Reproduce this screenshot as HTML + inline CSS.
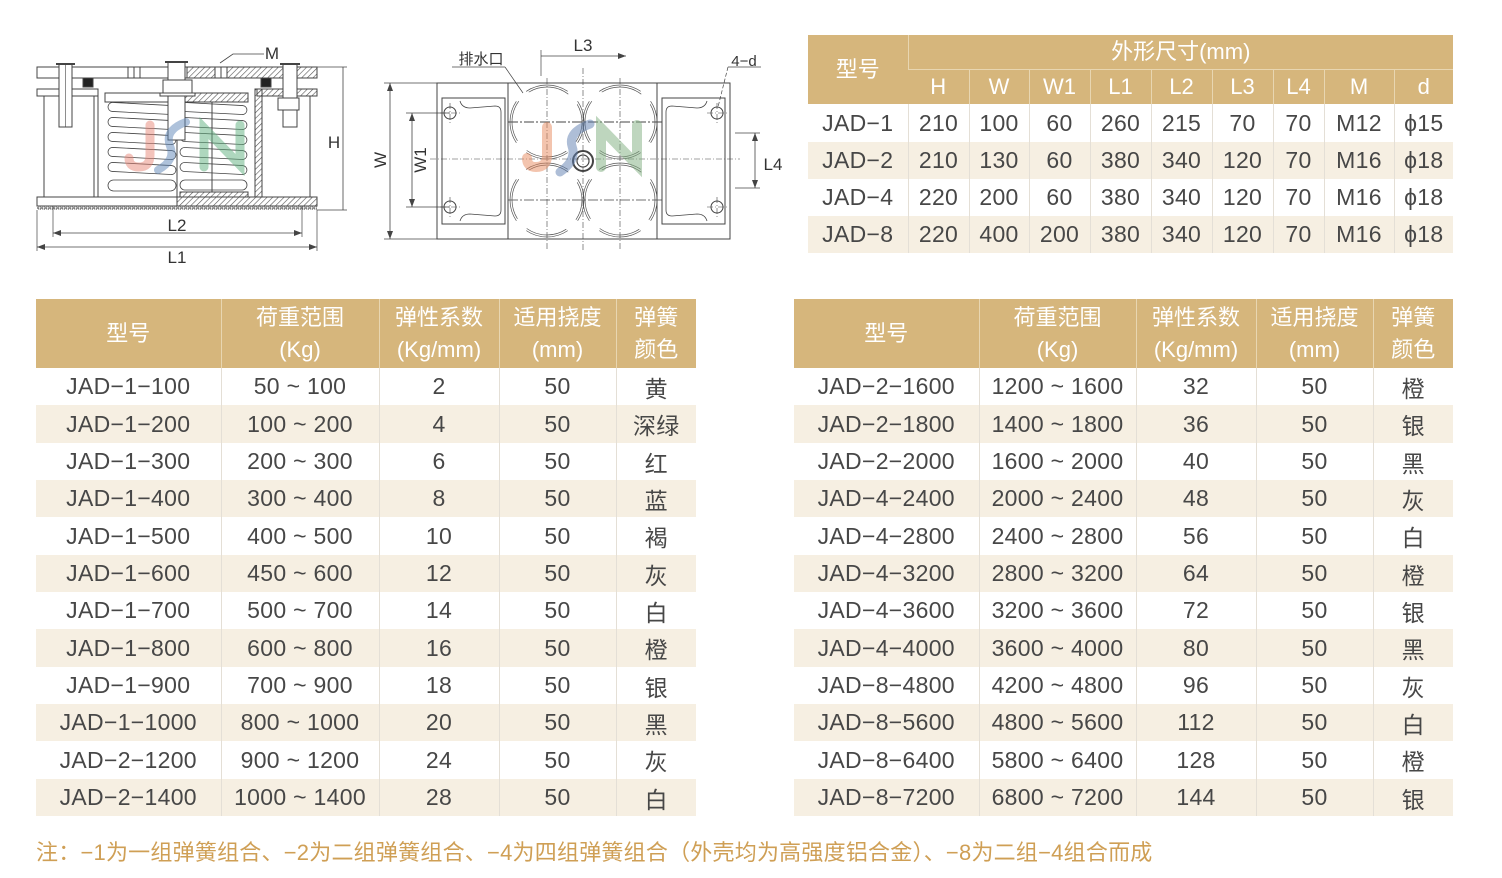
<!DOCTYPE html>
<html><head><meta charset="utf-8">
<style>
html,body{margin:0;padding:0;background:#fff;}
body{width:1502px;height:878px;position:relative;overflow:hidden;font-family:"Liberation Sans","Noto Sans CJK SC",sans-serif;}
svg.draw{position:absolute;left:0;top:0;}
table.t{position:absolute;border-collapse:collapse;table-layout:fixed;font-family:"Liberation Sans","Noto Sans CJK SC","DejaVu Sans",sans-serif;color:#474747;font-size:23px;letter-spacing:0.3px;}
table.t td{padding:0;text-align:center;vertical-align:middle;white-space:nowrap;overflow:hidden;border-left:1px solid #e4dfd6;}
table.t td:first-child{border-left:none;}
table.t tr.h td{background:#d6b67c;color:#fff;font-size:22px;line-height:32px;border-left:1px solid #e8d6b1;letter-spacing:0;}
table.t tr.h td:first-child{border-left:none;}
table.t tr.s td{background:#f6efe2;}
table.t td.hb{border-top:1px solid #e8d6b1;}
.note{position:absolute;left:36px;top:835px;font-size:22px;color:#cf9f55;white-space:nowrap;letter-spacing:0.22px;font-family:"Liberation Sans","Noto Sans CJK SC",sans-serif;}
</style></head>
<body>
<svg class="draw" width="1502" height="300" viewBox="0 0 1502 300" xmlns="http://www.w3.org/2000/svg">
<defs>
<pattern id="h" width="4" height="4" patternUnits="userSpaceOnUse" patternTransform="rotate(45)"><line x1="0" y1="0" x2="0" y2="4" stroke="#555" stroke-width="1.2"/></pattern>
<pattern id="teeth" width="4" height="4" patternUnits="userSpaceOnUse"><rect x="0.5" y="0.3" width="2.4" height="3" fill="none" stroke="#555" stroke-width="0.6"/></pattern>
<marker id="ar" markerWidth="8" markerHeight="6" refX="8" refY="3" orient="auto" markerUnits="userSpaceOnUse"><path d="M0,0 L8,3 L0,6 z" fill="#444"/></marker>
<marker id="al" markerWidth="8" markerHeight="6" refX="0" refY="3" orient="auto" markerUnits="userSpaceOnUse"><path d="M8,0 L0,3 L8,6 z" fill="#444"/></marker>
</defs>

<!-- LEFT DRAWING -->
<g stroke="#444" stroke-width="1" fill="none">
  <rect x="37" y="67" width="150" height="11" fill="#fff"/>
  <rect x="187" y="67" width="130" height="11" fill="url(#h)"/>
  <rect x="37" y="67" width="280" height="11"/>
  <rect x="128" y="67" width="12" height="11" fill="#fff"/>
  <line x1="134" y1="67" x2="134" y2="78"/>
  <rect x="215" y="67" width="12" height="11" fill="#fff"/>
  <line x1="221" y1="67" x2="221" y2="78"/>
  <rect x="83" y="78" width="10" height="9" fill="#222"/>
  <rect x="261" y="78" width="10" height="9" fill="#222"/>
  <rect x="37" y="89" width="61" height="7" fill="#fff"/>
  <rect x="257" y="89" width="60" height="7" fill="url(#h)"/>
  <rect x="44" y="96" width="50" height="101" fill="#fff"/>
  <line x1="98" y1="96" x2="98" y2="197"/>
  <rect x="262" y="96" width="48" height="101" fill="#fff"/>
  <rect x="255" y="89" width="7" height="108" fill="url(#h)"/>
  <rect x="105" y="93" width="72" height="9" fill="#fff"/>
  <rect x="177" y="93" width="71" height="9" fill="url(#h)"/>
  <g stroke-width="0.8">
    <rect x="108" y="104" width="68" height="9" rx="4.5" transform="rotate(3 142 108)"/>
    <rect x="108" y="119" width="68" height="9" rx="4.5" transform="rotate(3 142 123)"/>
    <rect x="108" y="134" width="68" height="9" rx="4.5" transform="rotate(3 142 138)"/>
    <rect x="108" y="149" width="68" height="9" rx="4.5" transform="rotate(3 142 153)"/>
    <rect x="108" y="164" width="68" height="9" rx="4.5" transform="rotate(3 142 168)"/>
    <rect x="108" y="180" width="68" height="11" rx="5.5"/>
    <rect x="180" y="104" width="67" height="9" rx="4.5" transform="rotate(3 213 108)"/>
    <rect x="180" y="119" width="67" height="9" rx="4.5" transform="rotate(3 213 123)"/>
    <rect x="180" y="134" width="67" height="9" rx="4.5" transform="rotate(3 213 138)"/>
    <rect x="180" y="149" width="67" height="9" rx="4.5" transform="rotate(3 213 153)"/>
    <rect x="180" y="164" width="67" height="9" rx="4.5" transform="rotate(3 213 168)"/>
    <rect x="180" y="180" width="67" height="10" rx="5"/>
  </g>
  <line x1="177" y1="102" x2="177" y2="197"/>
  <line x1="212" y1="102" x2="212" y2="192"/>
  <rect x="180" y="192" width="68" height="5" fill="url(#h)"/>
  <rect x="37" y="197" width="140" height="9" fill="#fff"/>
  <rect x="177" y="197" width="140" height="9" fill="url(#h)"/>
  <rect x="37" y="197" width="280" height="9"/>
  <rect x="37" y="206" width="280" height="4" fill="url(#teeth)" stroke="none"/>
  <rect x="59" y="64" width="13" height="63" fill="#fff"/>
  <line x1="56" y1="64" x2="75" y2="64" stroke-width="2"/>
  <line x1="65.5" y1="64" x2="65.5" y2="127" stroke-width="0.6"/>
  <rect x="168" y="62" width="17" height="78" fill="#fff"/>
  <line x1="165" y1="62" x2="188" y2="62" stroke-width="2"/>
  <rect x="163" y="80" width="29" height="13" fill="#fff"/>
  <rect x="160" y="93" width="35" height="3" fill="#fff"/>
  <rect x="283" y="64" width="14" height="63" fill="#fff"/>
  <line x1="280" y1="64" x2="300" y2="64" stroke-width="2"/>
  <rect x="278" y="98" width="21" height="12" fill="#fff"/>
  <line x1="317" y1="67" x2="347" y2="67" stroke-width="0.7"/>
  <line x1="317" y1="210" x2="347" y2="210" stroke-width="0.7"/>
  <line x1="343" y1="67" x2="343" y2="210" stroke-width="0.8"/>
  <line x1="53" y1="206" x2="53" y2="237" stroke-width="0.7"/>
  <line x1="302" y1="206" x2="302" y2="237" stroke-width="0.7"/>
  <line x1="53" y1="233" x2="302" y2="233" stroke-width="0.8" marker-start="url(#al)" marker-end="url(#ar)"/>
  <line x1="37" y1="210" x2="37" y2="251" stroke-width="0.7"/>
  <line x1="317" y1="210" x2="317" y2="251" stroke-width="0.7"/>
  <line x1="37" y1="247" x2="317" y2="247" stroke-width="0.8" marker-start="url(#al)" marker-end="url(#ar)"/>
  <polyline points="220,63 233,54 264,54" stroke-width="0.8"/>
</g>
<g fill="none" stroke-linecap="round" opacity="0.5">
  <path d="M150 125 L150 155 Q150 167 139 167 Q129 167 129 158" stroke="#e8887a" stroke-width="9"/>
  <path d="M186 122 Q164 130 170 146 Q176 160 158 170" stroke="#5f87b9" stroke-width="8"/>
  <path d="M204 167 L204 128 L240 165 L240 125" stroke="#5fb07f" stroke-width="9"/>
</g>
<g font-family="Liberation Sans, sans-serif" font-size="17" fill="#333" text-anchor="middle">
  <text x="272" y="59">M</text>
  <text x="334" y="148">H</text>
  <text x="177" y="231">L2</text>
  <text x="177" y="263">L1</text>
</g>

<!-- MIDDLE DRAWING -->
<g stroke="#444" stroke-width="1" fill="none">
  <rect x="437" y="83" width="293" height="156"/>
  <line x1="508" y1="83" x2="508" y2="239"/>
  <line x1="657" y1="83" x2="657" y2="239"/>
  <rect x="442" y="98" width="63" height="126"/>
  <path d="M460 101 Q462 108 470 108 L495 106 Q501 106 501 112 L501 210 Q501 216 495 216 L470 214 Q462 214 460 221" stroke-width="0.8"/>
  <rect x="662" y="98" width="63" height="126"/>
  <path d="M707 101 Q705 108 697 108 L672 106 Q666 106 666 112 L666 210 Q666 216 672 216 L697 214 Q705 214 707 221" stroke-width="0.8"/>
  <circle cx="450" cy="113" r="6"/>
  <circle cx="717" cy="113" r="6"/>
  <circle cx="450" cy="207" r="6"/>
  <circle cx="717" cy="207" r="6"/>
  <g stroke-dasharray="6 2 1 2" stroke-width="0.6">
    <line x1="440" y1="113" x2="460" y2="113"/><line x1="450" y1="103" x2="450" y2="123"/>
    <line x1="707" y1="113" x2="727" y2="113"/><line x1="717" y1="103" x2="717" y2="123"/>
    <line x1="440" y1="207" x2="460" y2="207"/><line x1="450" y1="197" x2="450" y2="217"/>
    <line x1="707" y1="207" x2="727" y2="207"/><line x1="717" y1="197" x2="717" y2="217"/>
    <line x1="430" y1="159" x2="740" y2="159"/>
    <line x1="547" y1="78" x2="547" y2="250"/>
    <line x1="583" y1="68" x2="583" y2="252"/>
    <line x1="620" y1="78" x2="620" y2="250"/>
  </g>
  <line x1="508" y1="122" x2="662" y2="122" stroke-dasharray="10 2 2 2" stroke-width="1.1"/>
  <line x1="508" y1="200" x2="662" y2="200" stroke-dasharray="10 2 2 2" stroke-width="0.8"/>
  <g stroke-width="0.7" stroke="#555">
    <g stroke-dasharray="22 14 44 14 44 14 44 14 22">
      <circle cx="547" cy="122" r="37"/><circle cx="620" cy="122" r="37"/>
      <circle cx="547" cy="200" r="37"/><circle cx="620" cy="200" r="37"/>
    </g>
    <g stroke-dasharray="21 13.5 42 13.5 42 13.5 42 13.5 21">
      <circle cx="547" cy="122" r="35"/><circle cx="620" cy="122" r="35"/>
      <circle cx="547" cy="200" r="35"/><circle cx="620" cy="200" r="35"/>
    </g>
  </g>
  <circle cx="583" cy="161" r="10" stroke-width="2"/>
  <circle cx="583" cy="161" r="6" stroke-width="1.2"/>
  <line x1="384" y1="83" x2="437" y2="83" stroke-width="0.7"/>
  <line x1="384" y1="239" x2="437" y2="239" stroke-width="0.7"/>
  <line x1="390" y1="83" x2="390" y2="239" stroke-width="0.8" marker-start="url(#al)" marker-end="url(#ar)"/>
  <line x1="406" y1="113" x2="450" y2="113" stroke-width="0.7"/>
  <line x1="406" y1="207" x2="450" y2="207" stroke-width="0.7"/>
  <line x1="412" y1="113" x2="412" y2="207" stroke-width="0.8" marker-start="url(#al)" marker-end="url(#ar)"/>
  <line x1="541" y1="50" x2="541" y2="76" stroke-width="0.7"/>
  <line x1="541" y1="56" x2="626" y2="56" stroke-width="0.8" marker-end="url(#ar)"/>
  <line x1="452" y1="67" x2="505" y2="67" stroke-width="0.7"/>
  <line x1="505" y1="67" x2="523" y2="93" stroke-width="0.7"/>
  <line x1="728" y1="67" x2="761" y2="67" stroke-width="0.7"/>
  <line x1="728" y1="67" x2="718" y2="107" stroke-width="0.7" stroke-dasharray="4 2"/>
  <line x1="735" y1="133" x2="760" y2="133" stroke-width="0.7"/>
  <line x1="735" y1="188" x2="760" y2="188" stroke-width="0.7"/>
  <line x1="755" y1="133" x2="755" y2="188" stroke-width="0.8" marker-start="url(#al)" marker-end="url(#ar)"/>
</g>
<g fill="none" stroke-linecap="round" opacity="0.5">
  <path d="M547 127 L547 155 Q547 167 536 167 Q527 167 527 158" stroke="#e88a60" stroke-width="10"/>
  <path d="M590 124 Q568 132 572 146 Q577 160 560 172" stroke="#5f7fb0" stroke-width="9"/>
  <path d="M601 167 L601 128 L637 165 L637 125" stroke="#7fae7f" stroke-width="10"/>
</g>
<g font-family="Liberation Sans, Noto Sans CJK SC, sans-serif" font-size="17" fill="#333" text-anchor="middle">
  <text x="583" y="51">L3</text>
  <text x="481" y="64" font-size="15">排水口</text>
  <text x="744" y="66" font-size="15">4−d</text>
  <text x="773" y="170">L4</text>
  <text x="0" y="0" transform="translate(386 160) rotate(-90)">W</text>
  <text x="0" y="0" transform="translate(426 160) rotate(-90)">W1</text>
</g>
</svg>

<!-- TOP RIGHT TABLE -->
<table class="t" style="left:808px;top:35px;width:645px;">
<colgroup><col style="width:100px"><col style="width:61px"><col style="width:60px"><col style="width:61px"><col style="width:61px"><col style="width:61px"><col style="width:61px"><col style="width:51px"><col style="width:70px"><col style="width:59px"></colgroup>
<tr class="h" style="height:34px"><td rowspan="2">型号</td><td colspan="9">外形尺寸(mm)</td></tr>
<tr class="h" style="height:35px"><td class="hb">H</td><td class="hb">W</td><td class="hb">W1</td><td class="hb">L1</td><td class="hb">L2</td><td class="hb">L3</td><td class="hb">L4</td><td class="hb">M</td><td class="hb">d</td></tr>
<tr style="height:38px"><td>JAD−1</td><td>210</td><td>100</td><td>60</td><td>260</td><td>215</td><td>70</td><td>70</td><td>M12</td><td>ϕ15</td></tr>
<tr class="s" style="height:37px"><td>JAD−2</td><td>210</td><td>130</td><td>60</td><td>380</td><td>340</td><td>120</td><td>70</td><td>M16</td><td>ϕ18</td></tr>
<tr style="height:37px"><td>JAD−4</td><td>220</td><td>200</td><td>60</td><td>380</td><td>340</td><td>120</td><td>70</td><td>M16</td><td>ϕ18</td></tr>
<tr class="s" style="height:37px"><td>JAD−8</td><td>220</td><td>400</td><td>200</td><td>380</td><td>340</td><td>120</td><td>70</td><td>M16</td><td>ϕ18</td></tr>
</table>

<!-- BOTTOM LEFT TABLE -->
<table class="t" style="left:36px;top:299px;width:660px;">
<colgroup><col style="width:185px"><col style="width:158px"><col style="width:120px"><col style="width:117px"><col style="width:80px"></colgroup>
<tr class="h" style="height:69px"><td>型号</td><td>荷重范围<br>(Kg)</td><td>弹性系数<br>(Kg/mm)</td><td>适用挠度<br>(mm)</td><td>弹簧<br>颜色</td></tr>
<tr style="height:37px"><td>JAD−1−100</td><td>50 ~ 100</td><td>2</td><td>50</td><td>黄</td></tr>
<tr class="s" style="height:38px"><td>JAD−1−200</td><td>100 ~ 200</td><td>4</td><td>50</td><td>深绿</td></tr>
<tr style="height:37px"><td>JAD−1−300</td><td>200 ~ 300</td><td>6</td><td>50</td><td>红</td></tr>
<tr class="s" style="height:37px"><td>JAD−1−400</td><td>300 ~ 400</td><td>8</td><td>50</td><td>蓝</td></tr>
<tr style="height:38px"><td>JAD−1−500</td><td>400 ~ 500</td><td>10</td><td>50</td><td>褐</td></tr>
<tr class="s" style="height:37px"><td>JAD−1−600</td><td>450 ~ 600</td><td>12</td><td>50</td><td>灰</td></tr>
<tr style="height:37px"><td>JAD−1−700</td><td>500 ~ 700</td><td>14</td><td>50</td><td>白</td></tr>
<tr class="s" style="height:38px"><td>JAD−1−800</td><td>600 ~ 800</td><td>16</td><td>50</td><td>橙</td></tr>
<tr style="height:37px"><td>JAD−1−900</td><td>700 ~ 900</td><td>18</td><td>50</td><td>银</td></tr>
<tr class="s" style="height:37px"><td>JAD−1−1000</td><td>800 ~ 1000</td><td>20</td><td>50</td><td>黑</td></tr>
<tr style="height:38px"><td>JAD−2−1200</td><td>900 ~ 1200</td><td>24</td><td>50</td><td>灰</td></tr>
<tr class="s" style="height:37px"><td>JAD−2−1400</td><td>1000 ~ 1400</td><td>28</td><td>50</td><td>白</td></tr>
</table>

<!-- BOTTOM RIGHT TABLE -->
<table class="t" style="left:794px;top:299px;width:659px;">
<colgroup><col style="width:185px"><col style="width:157px"><col style="width:120px"><col style="width:117px"><col style="width:80px"></colgroup>
<tr class="h" style="height:69px"><td>型号</td><td>荷重范围<br>(Kg)</td><td>弹性系数<br>(Kg/mm)</td><td>适用挠度<br>(mm)</td><td>弹簧<br>颜色</td></tr>
<tr style="height:37px"><td>JAD−2−1600</td><td>1200 ~ 1600</td><td>32</td><td>50</td><td>橙</td></tr>
<tr class="s" style="height:38px"><td>JAD−2−1800</td><td>1400 ~ 1800</td><td>36</td><td>50</td><td>银</td></tr>
<tr style="height:37px"><td>JAD−2−2000</td><td>1600 ~ 2000</td><td>40</td><td>50</td><td>黑</td></tr>
<tr class="s" style="height:37px"><td>JAD−4−2400</td><td>2000 ~ 2400</td><td>48</td><td>50</td><td>灰</td></tr>
<tr style="height:38px"><td>JAD−4−2800</td><td>2400 ~ 2800</td><td>56</td><td>50</td><td>白</td></tr>
<tr class="s" style="height:37px"><td>JAD−4−3200</td><td>2800 ~ 3200</td><td>64</td><td>50</td><td>橙</td></tr>
<tr style="height:37px"><td>JAD−4−3600</td><td>3200 ~ 3600</td><td>72</td><td>50</td><td>银</td></tr>
<tr class="s" style="height:38px"><td>JAD−4−4000</td><td>3600 ~ 4000</td><td>80</td><td>50</td><td>黑</td></tr>
<tr style="height:37px"><td>JAD−8−4800</td><td>4200 ~ 4800</td><td>96</td><td>50</td><td>灰</td></tr>
<tr class="s" style="height:37px"><td>JAD−8−5600</td><td>4800 ~ 5600</td><td>112</td><td>50</td><td>白</td></tr>
<tr style="height:38px"><td>JAD−8−6400</td><td>5800 ~ 6400</td><td>128</td><td>50</td><td>橙</td></tr>
<tr class="s" style="height:37px"><td>JAD−8−7200</td><td>6800 ~ 7200</td><td>144</td><td>50</td><td>银</td></tr>
</table>

<div class="note">注：−1为一组弹簧组合、−2为二组弹簧组合、−4为四组弹簧组合（外壳均为高强度铝合金）、−8为二组−4组合而成</div>
</body></html>
